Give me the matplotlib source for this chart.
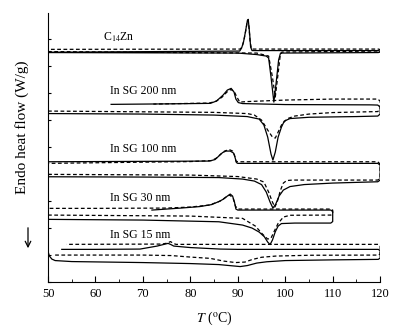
import matplotlib
matplotlib.use("Agg")
import matplotlib.pyplot as plt
from matplotlib.ticker import MultipleLocator

plt.rcParams['font.family'] = ['Liberation Serif', 'DejaVu Serif']
plt.rcParams['mathtext.fontset'] = 'stix'

# DSC traces: temperature (°C) and heat flow (arbitrary, stacked offsets).
# each run = heating 50 -> 120 then cooling 120 -> 50 (loop closes at the right)

# C14Zn
c14_solid_T = [50, 90, 94, 96, 96.5, 97.0, 97.6, 98.1, 98.6, 99.0, 119.6, 120, 120, 119.6,
               93.0, 92.7, 92.5, 92.2, 92.0, 91.6, 91.2, 90.8, 90.4, 50]
c14_solid_hf = [229.5, 229, 227.5, 226, 224, 205, 180, 200, 222, 229, 229.5, 230, 231, 231.5,
                231.5, 235, 248, 262.7, 261, 250, 240, 234, 231, 229.8]
c14_dash_T = [50, 94, 96.5, 97.3, 97.9, 98.4, 98.9, 99.3, 119.6, 120, 120, 119.6,
              92.9, 92.6, 92.3, 92.05, 91.7, 91.3, 90.9, 90.5, 50]
c14_dash_hf = [230.5, 229, 226, 205, 185, 205, 225, 230, 231, 231.5, 232.5, 233,
               233, 240, 258, 262, 252, 242, 235, 233, 232.7]

# In SG 200 nm
sg200_solid_T = [50, 70, 85, 92, 94.5, 95.5, 96.3, 97.0, 97.4, 97.9, 98.5, 99.2, 99.8, 101, 105,
                 115, 119.5, 120, 120, 119.5, 118, 100, 91, 90.1, 89.6, 89.2, 88.6, 87.8, 86.9,
                 85.5, 84.2, 75, 63.3]
sg200_solid_hf = [168.5, 168, 167, 165.5, 163, 157, 145, 128, 122, 130, 145, 155, 161, 163.5, 164.8,
                  165.5, 166, 168, 175, 177, 177.2, 177.5, 178.5, 179.5, 183, 190, 193.7, 192, 187,
                  181, 178.7, 178.2, 177.7]
sg200_dash_T = [50, 85, 92, 93.5, 95, 96.3, 97.3, 97.9, 98.5, 99.3, 100.5, 102, 105, 110, 119.5,
                120, 120, 119.5, 110, 100, 92, 90.4, 89.7, 89.2, 88.5, 87.7, 86.7, 85.5, 84, 78, 72.2]
sg200_dash_hf = [171, 169.7, 168.5, 167, 162, 152, 145, 144, 150, 158, 163.5, 166, 168, 169.5, 170.5,
                 173, 181, 183, 183, 182, 180.5, 180, 186, 191, 192.5, 190, 185, 181, 179, 178.5, 178]

# In SG 100 nm
sg100_solid_T = [50, 70, 86, 91, 93.5, 95, 96, 96.8, 97.4, 98, 98.7, 99.6, 101, 104, 110, 119.5,
                 120, 120, 119.5, 100, 90, 89.7, 89.4, 89.1, 88.4, 87.5, 86.8, 86.0, 85.2, 84, 75, 60, 50]
sg100_solid_hf = [105.3, 105, 104.5, 103, 101, 97.5, 90, 80, 74, 78, 86, 92, 95.5, 97.5, 99, 100.3,
                  102, 117, 118.7, 118.7, 118.7, 119.5, 125, 129, 131, 131, 129.5, 126, 122.5, 121,
                  120.8, 120.5, 120.3]
sg100_dash_T = [50, 80, 90, 94, 95.5, 96.5, 97.3, 97.8, 98.3, 99, 99.6, 100.3, 101.5, 119.5,
                120, 120, 119.5, 90, 89.6, 89.3, 88.9, 88.2, 87.2, 86.4, 85.5, 84.5, 80, 50]
sg100_dash_hf = [107.7, 107, 105.5, 103, 100, 90, 80, 75, 80, 92, 99, 101.5, 102, 102,
                 104, 118, 120.3, 120.3, 121, 127, 131, 132.5, 131, 128, 124, 121.5, 120.5, 118.7]

# In SG 30 nm (run stops at 110 °C)
sg30_solid_T = [50, 70, 86, 91, 93, 94.5, 95.6, 96.3, 96.8, 97.3, 97.9, 98.5, 99.2, 102, 109.6,
                110, 110, 109.6, 90, 89.6, 89.3, 88.9, 88.4, 87.8, 87, 86, 84.5, 82, 78, 71.9]
sg30_solid_hf = [62.7, 62, 60.3, 57, 54, 50, 45.3, 40, 37.5, 42, 50.3, 56, 58.5, 59, 59,
                 60.5, 70.5, 72, 72, 73, 80, 86, 88, 86, 83, 80.5, 77.5, 75.5, 74, 72]
sg30_dash_T = [50, 80, 91, 93.7, 95.2, 96.3, 97, 97.8, 98.5, 99.6, 101, 109.6,
               110, 110, 109.6, 90, 89.5, 89, 88.3, 87.5, 86.3, 84, 80, 75, 60, 50]
sg30_dash_hf = [67, 66, 63.7, 56, 48, 43, 44, 52, 58.7, 65, 66.8, 67,
                68, 72, 73, 73, 76, 84, 87, 85, 81, 77, 75, 74, 73.7, 73.7]

# In SG 15 nm
sg15_solid_T = [50.0, 50.3, 50.8, 51.5, 55, 70, 80, 86, 90.5, 92, 94, 96.1, 100, 110, 119.6,
                120, 120, 119.6, 90, 86.3, 80, 76.5, 75.9, 75.3, 73, 69.4, 60, 52.9]
sg15_solid_hf = [30.5, 26, 23, 21.5, 20.5, 19.5, 18.5, 17.5, 15.5, 16.5, 19, 20.3, 21.5, 22.2, 22.7,
                 24, 31.5, 32.7, 32.7, 33, 34.5, 36, 37.5, 38.7, 36, 33, 32.7, 32.7]
sg15_dash_T = [51.5, 70, 76, 80, 84.2, 87, 89.5, 91.5, 93, 95, 98, 105, 119.6,
               120, 120, 119.6, 77, 76.5, 75.8, 75.2, 74, 53.9]
sg15_dash_hf = [27, 27, 26.5, 25, 23.7, 21, 19.5, 20, 22.5, 24.8, 26, 26.8, 27,
                28, 36.5, 37.7, 37.7, 38.5, 40.5, 39, 38, 37.7]

labels = ['C$_{14}$Zn', 'In SG 200 nm', 'In SG 100 nm', 'In SG 30 nm', 'In SG 15 nm']
label_T = [61.6, 63.1, 63.1, 63.1, 63.1]
label_hf = [245, 191, 133, 83.7, 47]

solid_runs = [(c14_solid_T, c14_solid_hf), (sg200_solid_T, sg200_solid_hf),
              (sg100_solid_T, sg100_solid_hf), (sg30_solid_T, sg30_solid_hf),
              (sg15_solid_T, sg15_solid_hf)]
dash_runs = [(c14_dash_T, c14_dash_hf), (sg200_dash_T, sg200_dash_hf),
             (sg100_dash_T, sg100_dash_hf), (sg30_dash_T, sg30_dash_hf),
             (sg15_dash_T, sg15_dash_hf)]

fig = plt.figure(figsize=(4.07, 3.35), dpi=100)
ax = fig.add_axes([0.118, 0.158, 0.816, 0.803])

for T, hf in dash_runs:
    ax.plot(T, hf, color='black', lw=0.9, ls=(0, (3, 2)))
for T, hf in solid_runs:
    ax.plot(T, hf, color='black', lw=0.9)

for txt, x, y in zip(labels, label_T, label_hf):
    ax.text(x, y, txt, fontsize=8.5, ha='left', va='center')

ax.set_xlim(50, 120)
ax.set_ylim(0, 269)
ax.spines['top'].set_visible(False)
ax.spines['right'].set_visible(False)
ax.xaxis.set_major_locator(MultipleLocator(10))
ax.xaxis.set_minor_locator(MultipleLocator(5))
ax.yaxis.set_major_locator(MultipleLocator(27))
ax.tick_params(axis='x', which='major', direction='in', length=4, labelsize=9, pad=4)
ax.tick_params(axis='x', which='minor', direction='in', length=2)
ax.tick_params(axis='y', direction='in', length=2, labelleft=False)

ax.set_xlabel(r'$T$ ($^{\rm o}$C)', fontsize=10, labelpad=7)

fig.text(22 / 407, 1 - 127 / 335, 'Endo heat flow (W/g)', rotation=90,
         fontsize=11, ha='center', va='center')
ax.annotate('', xy=(28 / 407, 1 - 251 / 335), xytext=(28 / 407, 1 - 225 / 335),
            xycoords='figure fraction', textcoords='figure fraction',
            arrowprops=dict(arrowstyle='->', lw=0.9, color='black'))

fig.savefig('out.png', dpi=100)
